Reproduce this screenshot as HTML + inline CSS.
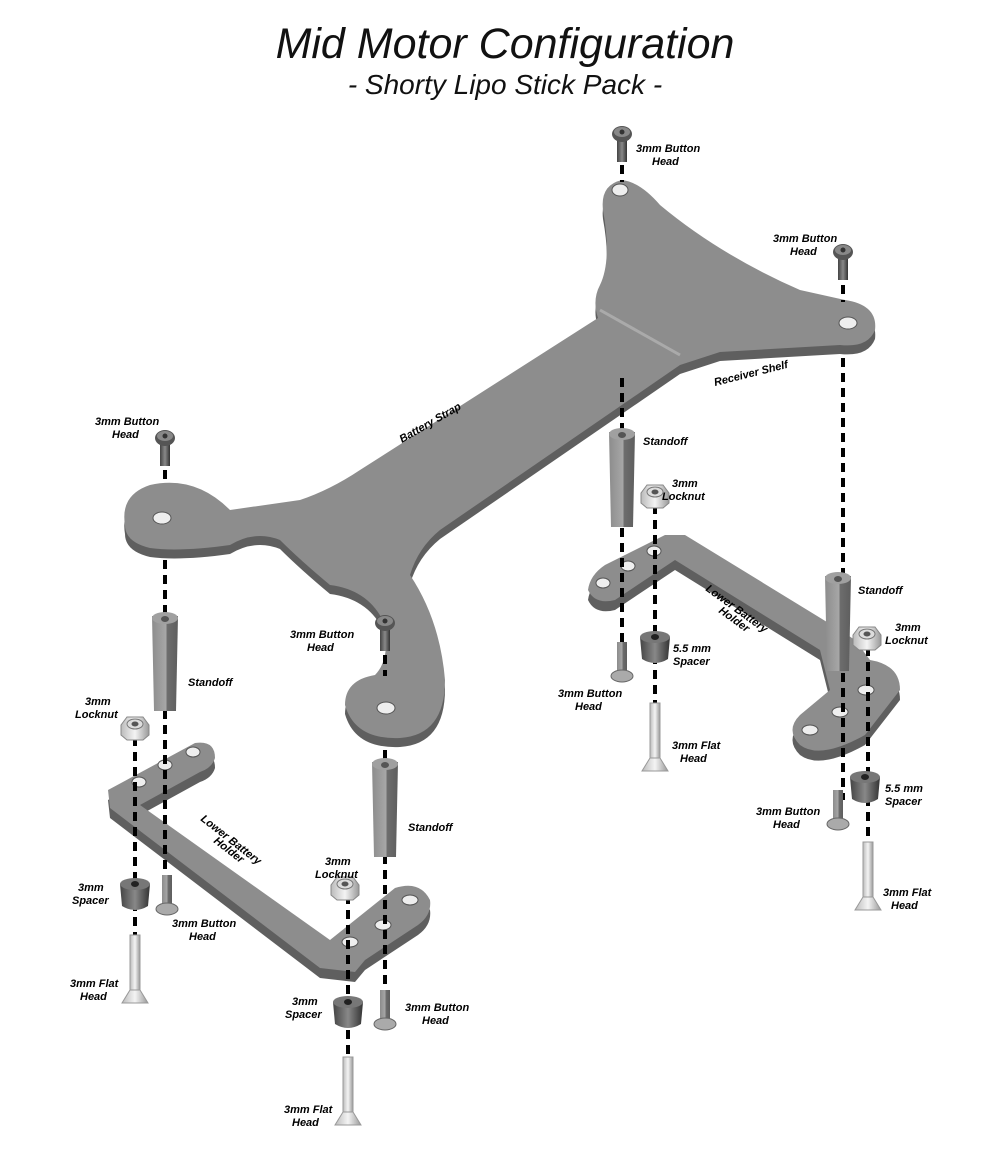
<!DOCTYPE html>
<html><head><meta charset="utf-8"><style>
html,body{margin:0;padding:0;background:#fff;}
svg{display:block;}
.t{font-family:"Liberation Sans",sans-serif;font-style:italic;font-weight:bold;font-size:11px;fill:#000;}
.tt{font-family:"Liberation Sans",sans-serif;font-style:italic;fill:#111;}
.d{stroke:#000;stroke-width:4;stroke-dasharray:9,6;fill:none;}
</style></head><body>
<svg width="1000" height="1150" viewBox="0 0 1000 1150" xmlns="http://www.w3.org/2000/svg">
<defs>
<linearGradient id="gs" x1="0" x2="1"><stop offset="0" stop-color="#8c8c8c"/><stop offset="0.55" stop-color="#a8a8a8"/><stop offset="0.56" stop-color="#6e6e6e"/><stop offset="1" stop-color="#5e5e5e"/></linearGradient>
<linearGradient id="gl" x1="0" x2="1"><stop offset="0" stop-color="#bbb"/><stop offset="0.5" stop-color="#f4f4f4"/><stop offset="1" stop-color="#999"/></linearGradient>
<linearGradient id="gd" x1="0" x2="1"><stop offset="0" stop-color="#444"/><stop offset="0.5" stop-color="#888"/><stop offset="1" stop-color="#333"/></linearGradient>
<symbol id="screw" overflow="visible"><rect x="-5" y="6" width="10" height="28" fill="url(#gd)"/><ellipse cx="0" cy="6" rx="10" ry="8" fill="#555"/><ellipse cx="0" cy="4" rx="8" ry="5" fill="#888"/><circle cx="0" cy="4" r="2.5" fill="#333"/></symbol>
<symbol id="stand" overflow="visible"><polygon points="-13,0 13,0 11,95 -11,95" fill="url(#gs)"/><ellipse cx="0" cy="2" rx="13" ry="6" fill="#a0a0a0"/><ellipse cx="0" cy="3" rx="4" ry="3" fill="#555"/></symbol>
<symbol id="nut" overflow="visible"><polygon points="-14,-2 -8,-10 8,-10 14,-2 14,8 8,13 -8,13 -14,8" fill="url(#gl)" stroke="#888"/><ellipse cx="0" cy="-3" rx="8" ry="5" fill="#ddd" stroke="#777"/><ellipse cx="0" cy="-3" rx="3.5" ry="2.5" fill="#555"/></symbol>
<symbol id="spacer" overflow="visible"><path d="M-15,0 L-13,22 Q0,30 13,22 L15,0 Z" fill="url(#gd)"/><ellipse cx="0" cy="0" rx="15" ry="6" fill="#777"/><ellipse cx="0" cy="0" rx="4" ry="3" fill="#222"/></symbol>
<symbol id="bh" overflow="visible"><rect x="-5" y="0" width="10" height="32" fill="url(#gs)"/><ellipse cx="0" cy="34" rx="11" ry="6" fill="#aaa" stroke="#666"/></symbol>
<symbol id="flat" overflow="visible"><rect x="-5" y="0" width="10" height="55" fill="url(#gl)" stroke="#999"/><polygon points="-5,55 5,55 13,68 -13,68" fill="url(#gl)" stroke="#999"/></symbol>
</defs>

<text class="tt" x="505" y="58" font-size="43" text-anchor="middle">Mid Motor Configuration</text>
<text class="tt" x="505" y="94" font-size="28" text-anchor="middle">- Shorty Lipo Stick Pack -</text>

<!-- battery strap & receiver shelf -->
<g>
<path transform="translate(0,9)" fill="#5f5f5f" d="M125,525 Q120,495 150,485 Q195,475 230,510 L300,500 Q330,490 360,470 L598,318 Q592,300 600,285 Q612,260 603,210 Q600,185 622,180 Q640,182 660,205 Q720,255 800,290 L845,300 Q878,305 875,330 Q868,348 840,345 L720,352 L680,365 L440,530 Q418,548 410,575 Q440,620 445,680 Q445,735 400,738 Q355,740 345,705 Q345,680 375,675 Q390,660 385,625 Q370,590 330,585 Q300,560 280,540 Q255,530 230,545 Q180,552 150,548 Q125,542 125,525 Z"/>
<path fill="#8d8d8d" d="M125,525 Q120,495 150,485 Q195,475 230,510 L300,500 Q330,490 360,470 L598,318 Q592,300 600,285 Q612,260 603,210 Q600,185 622,180 Q640,182 660,205 Q720,255 800,290 L845,300 Q878,305 875,330 Q868,348 840,345 L720,352 L680,365 L440,530 Q418,548 410,575 Q440,620 445,680 Q445,735 400,738 Q355,740 345,705 Q345,680 375,675 Q390,660 385,625 Q370,590 330,585 Q300,560 280,540 Q255,530 230,545 Q180,552 150,548 Q125,542 125,525 Z"/>
<ellipse cx="620" cy="190" rx="8" ry="6" fill="#eee" stroke="#555"/>
<ellipse cx="848" cy="323" rx="9" ry="6" fill="#eee" stroke="#555"/>
<ellipse cx="162" cy="518" rx="9" ry="6" fill="#eee" stroke="#555"/>
<ellipse cx="386" cy="708" rx="9" ry="6" fill="#eee" stroke="#555"/>
<path d="M600,310 L680,355" stroke="#aaa" stroke-width="3"/>
</g>
<text class="t" transform="translate(402,443) rotate(-30)">Battery Strap</text>
<text class="t" transform="translate(715,386) rotate(-14)">Receiver Shelf</text>

<!-- left lower battery holder -->
<g>
<path transform="translate(0,10)" fill="#5f5f5f" d="M108,790 L195,743 Q215,740 215,758 Q212,768 200,772 L140,805 L330,940 L395,888 Q420,880 430,900 Q432,915 418,925 L365,960 L355,972 L320,968 L110,808 Z"/>
<path fill="#8d8d8d" d="M108,790 L195,743 Q215,740 215,758 Q212,768 200,772 L140,805 L330,940 L395,888 Q420,880 430,900 Q432,915 418,925 L365,960 L355,972 L320,968 L110,808 Z"/>
<g fill="#eee" stroke="#555"><ellipse cx="139" cy="782" rx="7" ry="5"/><ellipse cx="165" cy="765" rx="7" ry="5"/><ellipse cx="193" cy="752" rx="7" ry="5"/><ellipse cx="350" cy="942" rx="8" ry="5"/><ellipse cx="383" cy="925" rx="8" ry="5"/><ellipse cx="410" cy="900" rx="8" ry="5"/></g>
</g>
<text class="t" transform="translate(200,820) rotate(38)">Lower Battery</text>
<text class="t" transform="translate(213,842) rotate(38)">Holder</text>

<!-- right lower battery holder -->
<g>
<path transform="translate(0,10)" fill="#5f5f5f" d="M588,590 Q590,575 605,565 L665,535 L685,535 L840,630 L855,640 L870,660 Q900,665 900,690 L865,735 Q820,760 800,745 Q785,730 800,715 L830,690 L820,650 L675,560 L615,600 Q595,605 588,590 Z"/>
<path fill="#8d8d8d" d="M588,590 Q590,575 605,565 L665,535 L685,535 L840,630 L855,640 L870,660 Q900,665 900,690 L865,735 Q820,760 800,745 Q785,730 800,715 L830,690 L820,650 L675,560 L615,600 Q595,605 588,590 Z"/>
<g fill="#eee" stroke="#555"><ellipse cx="603" cy="583" rx="7" ry="5"/><ellipse cx="628" cy="566" rx="7" ry="5"/><ellipse cx="654" cy="551" rx="7" ry="5"/><ellipse cx="810" cy="730" rx="8" ry="5"/><ellipse cx="840" cy="712" rx="8" ry="5"/><ellipse cx="866" cy="690" rx="8" ry="5"/></g>
</g>
<text class="t" transform="translate(705,590) rotate(36)">Lower Battery</text>
<text class="t" transform="translate(718,612) rotate(36)">Holder</text>

<!-- dashed lines (single pass, broken around strap) -->
<line class="d" x1="622" y1="165" x2="622" y2="182"/>
<line class="d" x1="622" y1="378" x2="622" y2="650"/>
<line class="d" x1="843" y1="285" x2="843" y2="302"/>
<line class="d" x1="843" y1="358" x2="843" y2="800"/>
<line class="d" x1="165" y1="470" x2="165" y2="482"/>
<line class="d" x1="165" y1="560" x2="165" y2="880"/>
<line class="d" x1="385" y1="655" x2="385" y2="676"/>
<line class="d" x1="385" y1="750" x2="385" y2="995"/>
<line class="d" x1="655" y1="505" x2="655" y2="710"/>
<line class="d" x1="868" y1="647" x2="868" y2="850"/>
<line class="d" x1="135" y1="737" x2="135" y2="940"/>
<line class="d" x1="348" y1="895" x2="348" y2="1060"/>

<!-- hardware -->
<use href="#screw" x="622" y="128"/>
<use href="#screw" x="843" y="246"/>
<use href="#screw" x="165" y="432"/>
<use href="#screw" x="385" y="617"/>
<use href="#stand" x="622" y="432"/>
<use href="#stand" x="838" y="576"/>
<use href="#stand" x="165" y="616"/>
<use href="#stand" x="385" y="762"/>
<use href="#nut" x="655" y="495"/>
<use href="#nut" x="867" y="637"/>
<use href="#nut" x="135" y="727"/>
<use href="#nut" x="345" y="887"/>
<use href="#spacer" x="655" y="637"/>
<use href="#spacer" x="865" y="777"/>
<use href="#spacer" x="135" y="884"/>
<use href="#spacer" x="348" y="1002"/>
<use href="#bh" x="622" y="642"/>
<use href="#bh" x="838" y="790"/>
<use href="#bh" x="167" y="875"/>
<use href="#bh" x="385" y="990"/>
<use href="#flat" x="655" y="703"/>
<use href="#flat" x="868" y="842"/>
<use href="#flat" x="135" y="935"/>
<use href="#flat" x="348" y="1057"/>

<!-- labels -->
<g class="t">
<text x="636" y="152">3mm Button</text><text x="652" y="165">Head</text>
<text x="773" y="242">3mm Button</text><text x="790" y="255">Head</text>
<text x="95" y="425">3mm Button</text><text x="112" y="438">Head</text>
<text x="290" y="638">3mm Button</text><text x="307" y="651">Head</text>
<text x="643" y="445">Standoff</text>
<text x="858" y="594">Standoff</text>
<text x="188" y="686">Standoff</text>
<text x="408" y="831">Standoff</text>
<text x="672" y="487">3mm</text><text x="662" y="500">Locknut</text>
<text x="895" y="631">3mm</text><text x="885" y="644">Locknut</text>
<text x="85" y="705">3mm</text><text x="75" y="718">Locknut</text>
<text x="325" y="865">3mm</text><text x="315" y="878">Locknut</text>
<text x="673" y="652">5.5 mm</text><text x="673" y="665">Spacer</text>
<text x="885" y="792">5.5 mm</text><text x="885" y="805">Spacer</text>
<text x="78" y="891">3mm</text><text x="72" y="904">Spacer</text>
<text x="292" y="1005">3mm</text><text x="285" y="1018">Spacer</text>
<text x="558" y="697">3mm Button</text><text x="575" y="710">Head</text>
<text x="756" y="815">3mm Button</text><text x="773" y="828">Head</text>
<text x="172" y="927">3mm Button</text><text x="189" y="940">Head</text>
<text x="405" y="1011">3mm Button</text><text x="422" y="1024">Head</text>
<text x="672" y="749">3mm Flat</text><text x="680" y="762">Head</text>
<text x="883" y="896">3mm Flat</text><text x="891" y="909">Head</text>
<text x="70" y="987">3mm Flat</text><text x="80" y="1000">Head</text>
<text x="284" y="1113">3mm Flat</text><text x="292" y="1126">Head</text>
</g>
</svg>
</body></html>
